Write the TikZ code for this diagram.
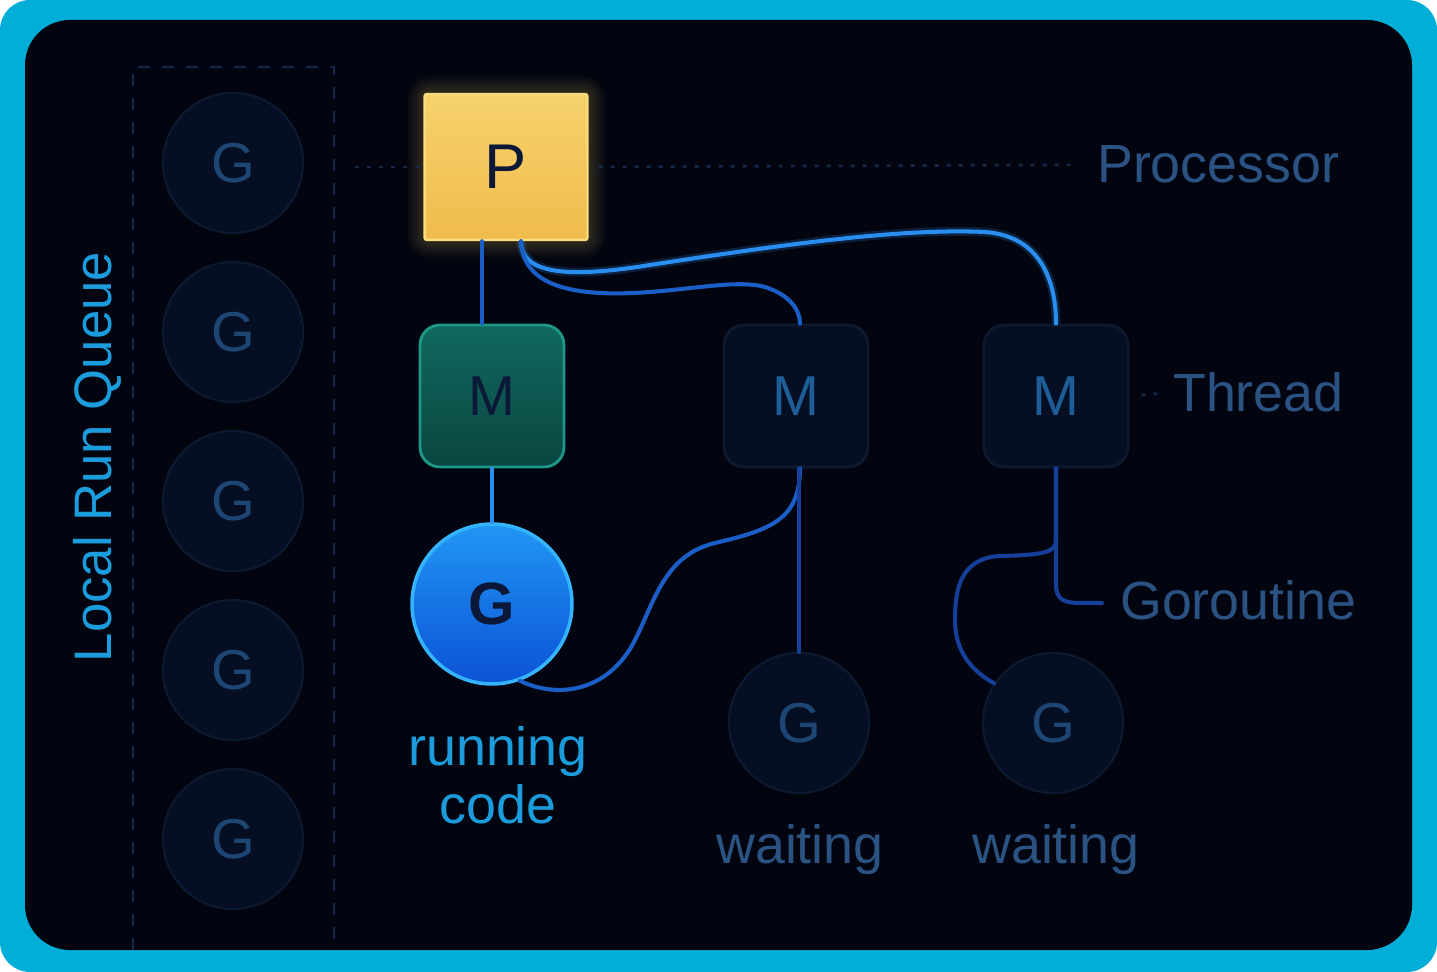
\documentclass[tikz,border=0pt]{standalone}
\usepackage{fontspec}
\setmainfont{Liberation Sans}
\usetikzlibrary{positioning}

\definecolor{frame}{HTML}{00AED8}
\definecolor{panel}{HTML}{02050F}
\definecolor{qline}{HTML}{15284A}
\definecolor{qfill}{HTML}{050E22}
\definecolor{qdraw}{HTML}{0C1A31}
\definecolor{qtext}{HTML}{1D4675}
\definecolor{dimtext}{HTML}{2A5283}
\definecolor{cyantext}{HTML}{1B9CDC}
\definecolor{navy}{HTML}{0B1838}
\definecolor{ptop}{HTML}{F6D26C}
\definecolor{pbot}{HTML}{F0BB4C}
\definecolor{pdraw}{HTML}{F9DC7C}
\definecolor{mtop}{HTML}{10695D}
\definecolor{mbot}{HTML}{0A4541}
\definecolor{mdraw}{HTML}{1E9886}
\definecolor{mtext}{HTML}{1E5E98}
\definecolor{gin}{HTML}{2196F4}
\definecolor{gout}{HTML}{0C52D6}
\definecolor{gdraw}{HTML}{34B4FF}
\definecolor{wiredark}{HTML}{163F9A}
\definecolor{wiremid}{HTML}{1C5EC8}
\definecolor{wirelight}{HTML}{2A8EF0}

\begin{document}
\begin{tikzpicture}[
    x=0.02cm, y=-0.02cm,
    qg/.style={circle, minimum size=2.8cm, inner sep=0, fill=qfill, draw=qdraw, line width=1.2pt,
      text=qtext, font=\fontsize{32}{32}\selectfont},
    mbox/.style={rounded corners=0.4cm, minimum width=2.88cm, minimum height=2.84cm, line width=1.6pt,
      font=\fontsize{32}{32}\selectfont},
    idle/.style={fill=qfill, draw=qdraw, text=mtext},
    tag/.style={text=dimtext, font=\fontsize{30.6}{34}\selectfont},
    guide/.style={draw=qline, line width=1.5pt, dash pattern=on 0.08cm off 0.16cm},
    link/.style={line width=2.3pt, line cap=round},
  ]
  \useasboundingbox (0,0) rectangle (1437,972);

  % frame and panel
  \fill[frame, rounded corners=0.6cm] (0,0) rectangle (1437,972);
  \fill[panel, rounded corners=0.9cm] (25,20) rectangle (1412,950);

  % local run queue
  \draw[qline, line width=1.3pt, dash pattern=on 0.24cm off 0.24cm] (133,950) -- (133,67) -- (334,67) -- (334,950);
  \foreach \y [count=\i] in {163,332,501,670,839}
    \node[qg] (q\i) at (233,\y) {G};
  \node[rotate=90, text=cyantext, font=\fontsize{30}{34}\selectfont] (lrq) at (97,457) {Local Run Queue};

  % glow behind P
  \foreach \w in {2,4,...,18}
    \fill[ptop, opacity=0.025, rounded corners=0.1cm+\w*0.02cm] (425-\w,94-\w) rectangle (588+\w,240+\w);

  % P, M and G nodes
  \node[rounded corners=0.05cm, minimum width=3.26cm, minimum height=2.92cm, top color=ptop, bottom color=pbot,
    draw=pdraw, line width=1.4pt, text=navy, font=\fontsize{36}{36}\selectfont] (P) at (506,167) {P};
  \node[mbox, top color=mtop, bottom color=mbot, draw=mdraw, text=navy] (M1) at (492,396) {M};
  \node[mbox, idle] (M2) at (796,396) {M};
  \node[mbox, idle] (M3) at (1056,396) {M};
  \node[circle, minimum size=3.2cm, inner sep=0, top color=gin, bottom color=gout, draw=gdraw, line width=2pt,
    text=navy, font=\fontsize{34}{34}\selectfont\bfseries] (G) at (492,604) {G};
  \node[qg] (G2) at (799,723) {G};
  \node[qg] (G3) at (1053,723) {G};

  % labels
  \node[tag, anchor=base west] (proc) at (1091,183) {Processor};
  \node[tag, anchor=base west] (thread) at (1167,412) {Thread};
  \node[tag, anchor=base west] (gor) at (1114,620) {Goroutine};
  \node[tag, anchor=base] (wait2) at (800,863) {waiting};
  \node[tag, anchor=base] (wait3) at (1056,863) {waiting};
  \node[tag, text=cyantext, align=center, font=\fontsize{30.6}{33}\selectfont, below=0.7cm of G, xshift=0.12cm] (run) {running\\code};

  % guides
  \coordinate (pl) at (355,167);
  \draw[guide] (pl) -- (P.west);
  \draw[guide, shorten <=0.2cm, shorten >=0.3cm] (P.east) -- (proc.west);
  \draw[guide, shorten <=0.24cm, shorten >=0.14cm] (M3.east) -- (thread.west);

  % wires
  \draw[link, wiremid] ([xshift=-0.2cm]M1.north |- P.south) -- ([xshift=-0.2cm]M1.north);
  \draw[link, wirelight] (M1.south) -- (G.north);
  \draw[link, wirelight, preaction={draw=wirelight, line width=5pt, opacity=0.2}]
    ([xshift=0.3cm]P.south) .. controls (521,275) and (570,278) .. (650,265)
    .. controls (780,245) and (900,228) .. (985,232) .. controls (1040,236) and (1056,280) .. (M3.north);
  \draw[link, wiremid]
    ([xshift=0.3cm]P.south) .. controls (523,285) and (570,298) .. (650,292)
    .. controls (700,288) and (740,280) .. (765,287) .. controls (790,295) and (800,310) .. ([xshift=0.08cm]M2.north);
  \draw[link, wiremid]
    ([xshift=0.08cm]M2.south) .. controls (800,520) and (770,530) .. (715,543)
    .. controls (665,555) and (655,600) .. (635,640) .. controls (610,690) and (560,700) .. (G.-70);
  \draw[link, wiredark] (G2.north |- M2.south) -- (G2.north);
  \draw[link, wiredark] (M3.south) -- (1056,540) .. controls (1056,552) and (1045,555) .. (1000,556)
    .. controls (960,558) and (955,590) .. (955,620) .. controls (955,650) and (970,670) .. (G3.146);
  \draw[link, wiredark, shorten >=0.24cm] (M3.south) -- (1056,585) .. controls (1056,600) and (1065,603) .. (1080,603) -- (gor.west |- 0,603);

\end{tikzpicture}
\end{document}
